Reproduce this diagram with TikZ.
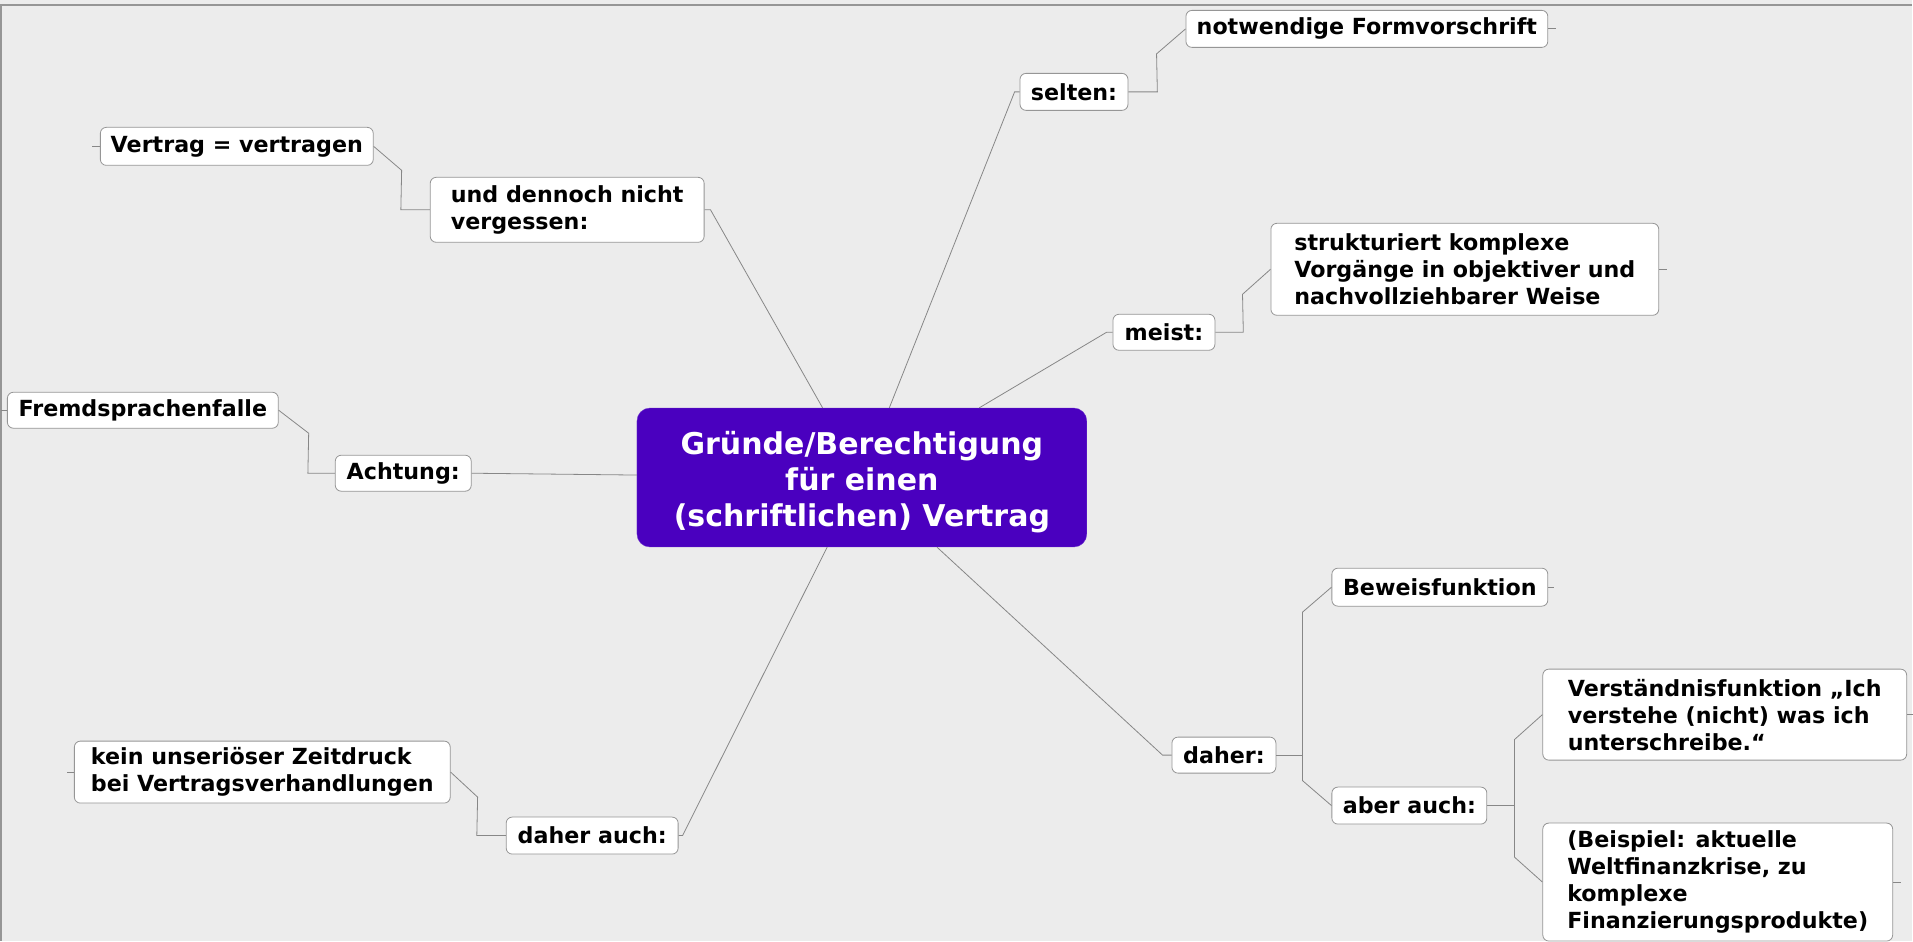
\documentclass[tikz,border=0pt]{standalone}
\usepackage{fontspec}
\setmainfont{DejaVu Sans}
\usetikzlibrary{calc}

\definecolor{bggray}{RGB}{236,236,236}
\definecolor{framegray}{RGB}{150,150,150}
\definecolor{boxgray}{RGB}{150,150,150}
\definecolor{linkgray}{RGB}{135,135,135}
\definecolor{topic}{RGB}{74,0,191}

\newcommand\leaffont{\fontsize{22.2}{27}\selectfont\bfseries}
\newcommand\topicfont{\fontsize{30}{36}\selectfont\bfseries}

\begin{document}
\begin{tikzpicture}[x=1pt,y=-1pt,
    leaf/.style={rectangle,rounded corners=6pt,draw=boxgray,fill=white,line width=0.8pt,anchor=north west,align=left,inner sep=2pt,font=\leaffont},
    link/.style={draw=linkgray,line width=0.8pt}]
\fill[bggray] (0,0) rectangle (1913,941);
\draw[framegray,line width=1.5pt] (1,941) -- (1,5) -- (1913,5);
\useasboundingbox (0,0) rectangle (1913,941);

% central topic
\node[rectangle,rounded corners=13pt,fill=topic,draw=topic!80!white,anchor=north west,minimum width=450pt,minimum height=139pt,align=center,text=white,font=\topicfont] (ctr) at (637,408) {\rule{0pt}{32pt}Gründe/Berechtigung\\für einen\\(schriftlichen) Vertrag};

% right side
\node[leaf,minimum width=108pt,minimum height=37pt] (selten) at (1020,73) {selten:};
\node[leaf,minimum width=362pt,minimum height=37pt] (formv) at (1186,10) {notwendige Formvorschrift};
\node[leaf,minimum width=102pt,minimum height=36pt] (meist) at (1113,314) {meist:};
\node[leaf,minimum width=388pt,minimum height=92pt] (strukt) at (1271,223) {strukturiert komplexe\\Vorgänge in objektiver und\\nachvollziehbarer Weise};
\node[leaf,minimum width=104pt,minimum height=36pt] (daher) at (1172,737) {daher:};
\node[leaf,minimum width=216pt,minimum height=38pt] (beweis) at (1332,568) {Beweisfunktion};
\node[leaf,minimum width=155pt,minimum height=37pt] (aberauch) at (1332,787) {aber auch:};
\node[leaf,minimum width=364pt,minimum height=91pt] (verst) at (1543,669) {Verständnisfunktion „Ich\\verstehe (nicht) was ich\\unterschreibe.“};
\node[leaf,minimum width=350pt,minimum height=118pt] (beispiel) at (1543,823) {(Beispiel: aktuelle\\Weltfinanzkrise, zu\\komplexe\\Finanzierungsprodukte)};

% left side
\node[leaf,minimum width=274pt,minimum height=65pt] (dennoch) at (430,177) {und dennoch nicht\\vergessen:};
\node[leaf,minimum width=273pt,minimum height=38pt] (vertrag) at (100,127) {Vertrag = vertragen};
\node[leaf,minimum width=136pt,minimum height=36pt] (achtung) at (335,455) {Achtung:};
\node[leaf,minimum width=271pt,minimum height=36pt] (fremd) at (7,392) {Fremdsprachenfalle};
\node[leaf,minimum width=172pt,minimum height=37pt] (daherauch) at (506,817) {daher auch:};
\node[leaf,minimum width=376pt,minimum height=62pt] (kein) at (74,741) {kein unseriöser Zeitdruck\\bei Vertragsverhandlungen};

% main branches
\draw[link] (ctr) -- ([xshift=-5]selten.west) -- (selten.west);
\draw[link] (ctr) -- ([xshift=-6]meist.west) -- (meist.west);
\draw[link] (ctr) -- ([xshift=-9]daher.west) -- (daher.west);
\draw[link] (ctr) -- ([xshift=6]dennoch.east) -- (dennoch.east);
\draw[link] (ctr) -- (achtung.east);
\draw[link] (ctr) -- ([xshift=4]daherauch.east) -- (daherauch.east);

% sub branches
\draw[link] (selten.east) -- ++(29,0) -- ($(formv.west)+(-29,25)$) -- (formv.west);
\draw[link] (meist.east) -- ++(28,0) -- ($(strukt.west)+(-28,25)$) -- (strukt.west);
\draw[link] (achtung.west) -- ++(-27,0) -- ($(fremd.east)+(30,23)$) -- (fremd.east);
\draw[link] (dennoch.west) -- ++(-29,0) -- ($(vertrag.east)+(28,24)$) -- (vertrag.east);
\draw[link] (daherauch.west) -- ++(-29,0) -- ($(kein.east)+(27,25)$) -- (kein.east);

\coordinate (dahers) at ($(beweis.west)+(-29,0)$);
\draw[link] (beweis.west) -- ++(-29,25) -- ($(aberauch.west)+(-29,-25)$) -- (aberauch.west);
\draw[link] (daher.east) -- (daher.east -| dahers);
\coordinate (abers) at ($(verst.west)+(-28,0)$);
\draw[link] (verst.west) -- ++(-28,25) -- ($(beispiel.west)+(-28,-25)$) -- (beispiel.west);
\draw[link] (aberauch.east) -- (aberauch.east -| abers);

% collapse stubs
\draw[link] (formv.east) -- ++(8,0);
\draw[link] (strukt.east) -- ++(8,0);
\draw[link] (beweis.east) -- ++(6,0);
\draw[link] (verst.east) -- ++(6,0);
\draw[link] (beispiel.east) -- ++(8,0);
\draw[link] (fremd.west) -- ++(-6,0);
\draw[link] (vertrag.west) -- ++(-8,0);
\draw[link] (kein.west) -- ++(-7,0);
\end{tikzpicture}
\end{document}
